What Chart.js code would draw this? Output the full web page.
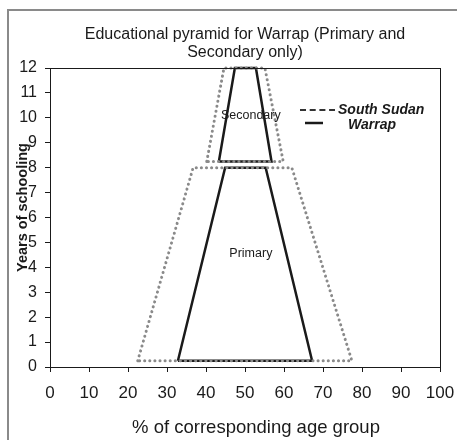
<!DOCTYPE html>
<html>
<head>
<meta charset="utf-8">
<script src="https://cdn.jsdelivr.net/npm/chart.js@4/dist/chart.umd.min.js"></script>
<style>
  body { margin: 0; background: #fff; }
  canvas { display: block; }
</style>
</head>
<body>
<canvas id="chart1" width="457" height="440"></canvas>
<script>
// years of schooling at the bottom / top of each band
var primaryYears = [0.25, 8]
var secondaryYears = [8.25, 12]

// % of age group: [left bottom, left top, right top, right bottom]
var southSudan_primary = [22.5, 36.7, 62.0, 77.4]
var southSudan_secondary = [40.2, 44.6, 55.1, 59.8]
var warrap_primary = [32.8, 44.9, 55.3, 67.2]
var warrap_secondary = [43.3, 47.4, 52.8, 56.8]

var xTicks = [0, 10, 20, 30, 40, 50, 60, 70, 80, 90, 100]

function band(xs, ys) {
    return [
        { x: xs[0], y: ys[0] },
        { x: xs[1], y: ys[1] },
        { x: xs[2], y: ys[1] },
        { x: xs[3], y: ys[0] },
        { x: xs[0], y: ys[0] }
    ]
}

var FONT = "'Liberation Sans', Arial, sans-serif"
Chart.defaults.font.family = FONT
Chart.defaults.color = '#1a1a1a'

var dotted = {
    borderColor: '#8a8a8a',
    borderWidth: 3,
    borderDash: [0.1, 5],
    borderCapStyle: 'round',
    pointRadius: 0,
    showLine: true,
    fill: false,
    tension: 0,
    clip: false
}
var solid = {
    borderColor: '#1a1a1a',
    borderWidth: 2.5,
    pointRadius: 0,
    showLine: true,
    fill: false,
    tension: 0,
    clip: false
}

var extras = {
    id: 'extras',
    beforeDraw: function (chart) {
        var ctx = chart.ctx
        ctx.save()
        ctx.strokeStyle = '#8a8a8a'
        ctx.lineWidth = 2
        ctx.strokeRect(8, 10, 600, 600)
        ctx.restore()
    },
    afterDraw: function (chart) {
        var ctx = chart.ctx
        var a = chart.chartArea
        var xs = chart.scales.x, ys = chart.scales.y
        var cx = (a.left + a.right) / 2
        ctx.save()
        // plot box
        ctx.strokeStyle = '#1a1a1a'
        ctx.lineWidth = 1
        ctx.strokeRect(a.left + 0.5, a.top + 0.5, a.right - a.left, a.bottom - a.top)

        // title
        ctx.fillStyle = '#1a1a1a'
        ctx.textAlign = 'center'
        ctx.textBaseline = 'middle'
        ctx.font = '16px ' + FONT
        ctx.fillText('Educational pyramid for Warrap (Primary and', cx, 35)
        ctx.fillText('Secondary only)', cx, 53)

        // x axis title
        ctx.font = '18.5px ' + FONT
        ctx.fillText('% of corresponding age group', cx + 11, 428)

        // y axis title
        ctx.save()
        ctx.translate(23, (a.top + a.bottom) / 2 - 10)
        ctx.rotate(-Math.PI / 2)
        ctx.font = 'bold 14.5px ' + FONT
        ctx.fillText('Years of schooling', 0, 0)
        ctx.restore()

        // band labels
        ctx.font = '12.5px ' + FONT
        ctx.fillText('Secondary', xs.getPixelForValue(51.5), ys.getPixelForValue(10.1))
        ctx.fillText('Primary', xs.getPixelForValue(51.5), ys.getPixelForValue(4.57))

        // legend
        var lx = a.left + 250, ly = a.top + 42
        ctx.strokeStyle = '#333'
        ctx.lineWidth = 2
        ctx.setLineDash([6, 3.7])
        ctx.beginPath()
        ctx.moveTo(lx, ly)
        ctx.lineTo(lx + 35, ly)
        ctx.stroke()
        ctx.setLineDash([])
        ctx.lineWidth = 2.5
        ctx.strokeStyle = '#1a1a1a'
        ctx.beginPath()
        ctx.moveTo(lx + 5, ly + 13)
        ctx.lineTo(lx + 23, ly + 13)
        ctx.stroke()
        ctx.textAlign = 'left'
        ctx.font = 'italic bold 14px ' + FONT
        ctx.fillText('South Sudan', lx + 38, ly)
        ctx.fillText('Warrap', lx + 48, ly + 15)
        ctx.restore()
    }
}

var chart1 = new Chart(
    document.getElementById('chart1'),
    {
        type: 'scatter',
        data: {
            datasets: [
                Object.assign({ label: 'South Sudan', data: band(southSudan_primary, primaryYears) }, dotted),
                Object.assign({ label: 'South Sudan', data: band(southSudan_secondary, secondaryYears) }, dotted),
                Object.assign({ label: 'Warrap', data: band(warrap_primary, primaryYears) }, solid),
                Object.assign({ label: 'Warrap', data: band(warrap_secondary, secondaryYears) }, solid)
            ]
        },
        options: {
            responsive: false,
            animation: false,
            layout: { padding: { top: 68, right: 17, left: 0, bottom: 0 } },
            plugins: {
                legend: { display: false },
                title: { display: false },
                tooltip: { enabled: false }
            },
            scales: {
                x: {
                    type: 'linear',
                    min: 0,
                    max: 100,
                    afterFit: function (s) {
                        s.height = 73
                        s.paddingLeft = 0
                        s.paddingRight = 0
                    },
                    afterBuildTicks: function (s) { s.ticks = xTicks.map(function (v) { return { value: v } }) },
                    grid: { drawOnChartArea: false, tickLength: 5, color: '#1a1a1a' },
                    border: { color: '#1a1a1a' },
                    ticks: { font: { size: 17 }, padding: 11, maxRotation: 0, autoSkip: false, color: '#1a1a1a' }
                },
                y: {
                    type: 'linear',
                    min: 0,
                    max: 12,
                    afterFit: function (s) {
                        s.width = 50
                        s.paddingTop = 0
                        s.paddingBottom = 0
                    },
                    grid: { drawOnChartArea: false, tickLength: 5, color: '#1a1a1a' },
                    border: { color: '#1a1a1a' },
                    ticks: { stepSize: 1, font: { size: 16 }, padding: 8, color: '#1a1a1a' }
                }
            }
        },
        plugins: [extras]
    }
);
</script>
</body>
</html>
